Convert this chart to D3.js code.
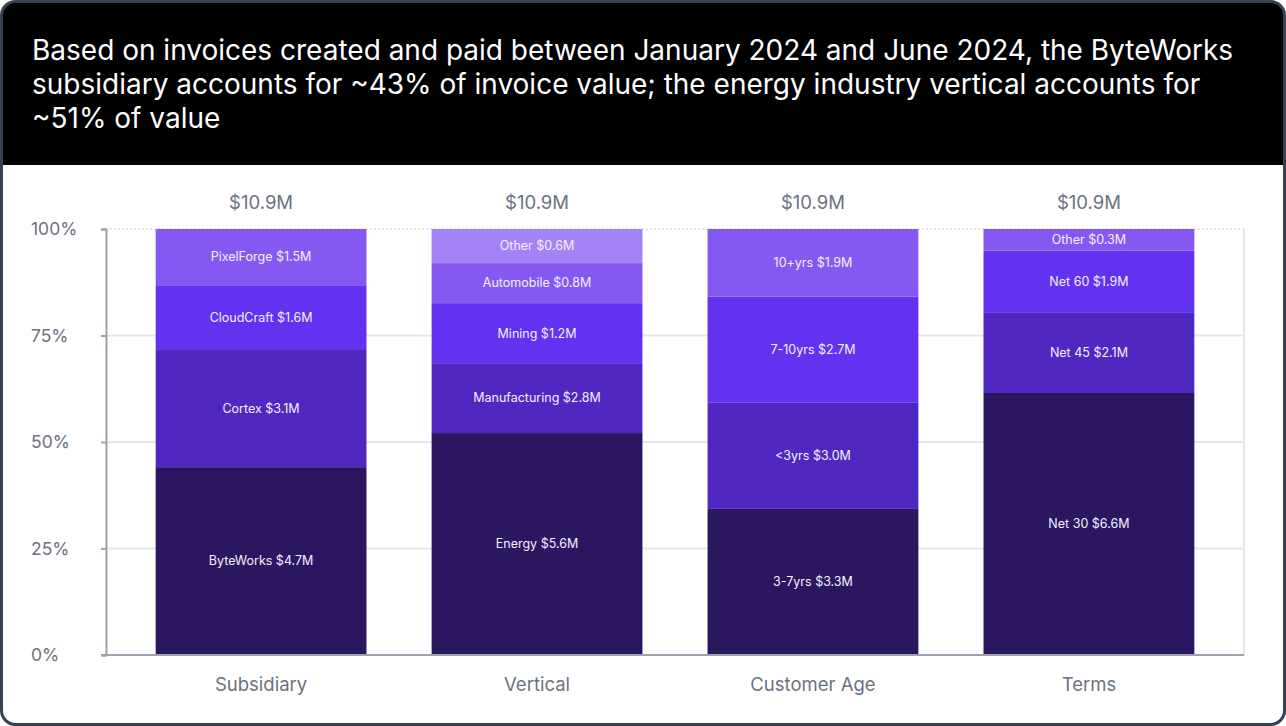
<!DOCTYPE html>
<html>
<head>
<meta charset="utf-8">
<script src="https://cdn.jsdelivr.net/npm/d3@7"></script>
<style>
  body { margin: 0; background: #fff; }
  svg { display: block; font-family: Inter, "Noto Sans", sans-serif; }
</style>
</head>
<body>
<div id="chart"></div>
<script>
// chart values
var categories = ["Subsidiary", "Vertical", "Customer Age", "Terms"];
var totals = ["$10.9M", "$10.9M", "$10.9M", "$10.9M"];
// segments bottom -> top; share is % of bar height
var segNames = [
  ["ByteWorks", "Cortex", "CloudCraft", "PixelForge"],
  ["Energy", "Manufacturing", "Mining", "Automobile", "Other"],
  ["3-7yrs", "<3yrs", "7-10yrs", "10+yrs"],
  ["Net 30", "Net 45", "Net 60", "Other"]
];
var segValues = [
  [4.7, 3.1, 1.6, 1.5],
  [5.6, 2.8, 1.2, 0.8, 0.6],
  [3.3, 3.0, 2.7, 1.9],
  [6.6, 2.1, 1.9, 0.3]
];
var segShares = [
  [44.1, 27.7, 15.0, 13.2],
  [52.1, 16.4, 14.1, 9.4, 8.0],
  [34.3, 24.9, 24.9, 15.9],
  [61.5, 18.8, 14.6, 5.1]
];
var yTicks = [0, 25, 50, 75, 100];
var titleLines = [
  "Based on invoices created and paid between January 2024 and June 2024, the ByteWorks",
  "subsidiary accounts for ~43% of invoice value; the energy industry vertical accounts for",
  "~51% of value"
];

var colors = ["#2b1660", "#5028c1", "#6332f0", "#8559f1", "#a483f6"];

var W = 1286, H = 726,
    plot = {left: 106, right: 1244, top: 229, bottom: 655};

var svg = d3.select("#chart").append("svg")
    .attr("width", W)
    .attr("height", H);

svg.append("clipPath").attr("id", "frame")
  .append("rect")
    .attr("x", 1.5).attr("y", 1.5)
    .attr("width", W - 3).attr("height", H - 3)
    .attr("rx", 14);

svg.append("rect")
    .attr("x", 1.5).attr("y", 1.5)
    .attr("width", W - 3).attr("height", H - 3)
    .attr("rx", 14)
    .attr("fill", "#fff");

// header
svg.append("rect")
    .attr("clip-path", "url(#frame)")
    .attr("x", 0).attr("y", 0)
    .attr("width", W).attr("height", 165)
    .attr("fill", "#000");

svg.append("g").selectAll("text").data(titleLines)
  .join("text")
    .attr("x", 32)
    .attr("y", function(d, i) { return 60 + i * 34; })
    .attr("fill", "#fff")
    .attr("font-size", 28)
    .attr("font-weight", 400)
    .text(function(d) { return d; });

var x = d3.scaleBand()
    .domain(categories)
    .range([plot.left, plot.right])
    .paddingInner(0.236)
    .paddingOuter(0.18);

var y = d3.scaleLinear()
    .domain([0, 100])
    .range([plot.bottom, plot.top]);

// gridlines
svg.append("g").selectAll("line").data(yTicks.filter(function(t) { return t > 0; }))
  .join("line")
    .attr("x1", plot.left).attr("x2", plot.right)
    .attr("y1", function(d) { return y(d); })
    .attr("y2", function(d) { return y(d); })
    .attr("stroke", "#e5e7eb")
    .attr("stroke-width", 2)
    .attr("stroke-dasharray", function(d) { return d == 100 ? "2,2" : null; });

svg.append("line")
    .attr("x1", plot.right).attr("x2", plot.right)
    .attr("y1", plot.top).attr("y2", plot.bottom)
    .attr("stroke", "#e5e7eb")
    .attr("stroke-width", 2);

// bars
var bars = svg.append("g").selectAll("g").data(categories)
  .join("g");

bars.each(function(cat, ci) {
  var shares = segShares[ci], acc = 0;
  var segs = shares.map(function(s, si) {
    var seg = {y0: acc, y1: acc + s, name: segNames[ci][si], value: segValues[ci][si], idx: si};
    acc += s;
    return seg;
  });
  var g = d3.select(this);
  g.selectAll("rect").data(segs)
    .join("rect")
      .attr("x", x(cat))
      .attr("width", x.bandwidth())
      .attr("y", function(d) { return y(d.y1); })
      .attr("height", function(d) { return y(d.y0) - y(d.y1); })
      .attr("fill", function(d) { return colors[d.idx]; });
  g.selectAll("text").data(segs)
    .join("text")
      .attr("x", x(cat) + x.bandwidth() / 2)
      .attr("y", function(d) { return (y(d.y0) + y(d.y1)) / 2; })
      .attr("dy", "0.35em")
      .attr("text-anchor", "middle")
      .attr("fill", "#f3f0ff")
      .attr("font-size", 12.5)
      .text(function(d) { return d.name + " $" + d.value.toFixed(1) + "M"; });
});

// totals above bars
svg.append("g").selectAll("text").data(categories)
  .join("text")
    .attr("x", function(d) { return x(d) + x.bandwidth() / 2; })
    .attr("y", 209)
    .attr("text-anchor", "middle")
    .attr("fill", "#6b7280")
    .attr("font-size", 18.5)
    .text(function(d, i) { return totals[i]; });

// y axis
var yAxis = svg.append("g")
    .attr("transform", "translate(" + plot.left + ",0)")
    .call(d3.axisLeft(y).tickValues(yTicks).tickFormat(function(d) { return d + "%"; }).tickSize(5));
yAxis.select(".domain").attr("stroke", "#9ca3af").attr("stroke-width", 2);
yAxis.selectAll(".tick line").attr("stroke", "#9ca3af").attr("stroke-width", 2);
yAxis.selectAll(".tick text")
    .attr("x", 31 - plot.left)
    .attr("text-anchor", "start")
    .attr("fill", "#6b7280")
    .attr("font-size", 17.5)
    .attr("font-family", "Inter, sans-serif");

// x axis
var xAxis = svg.append("g")
    .attr("transform", "translate(0," + plot.bottom + ")")
    .call(d3.axisBottom(x).tickSize(0).tickPadding(23));
xAxis.select(".domain")
    .attr("d", "M" + (plot.left - 5) + ",0H" + plot.right)
    .attr("stroke", "#9ca3af").attr("stroke-width", 2);
xAxis.selectAll(".tick text")
    .attr("fill", "#6b7280")
    .attr("font-size", 18.5)
    .attr("font-family", "Inter, sans-serif");

// frame border
svg.append("rect")
    .attr("x", 1.5).attr("y", 1.5)
    .attr("width", W - 3).attr("height", H - 3)
    .attr("rx", 14)
    .attr("fill", "none")
    .attr("stroke", "#374151")
    .attr("stroke-width", 3);
</script>
</body>
</html>
